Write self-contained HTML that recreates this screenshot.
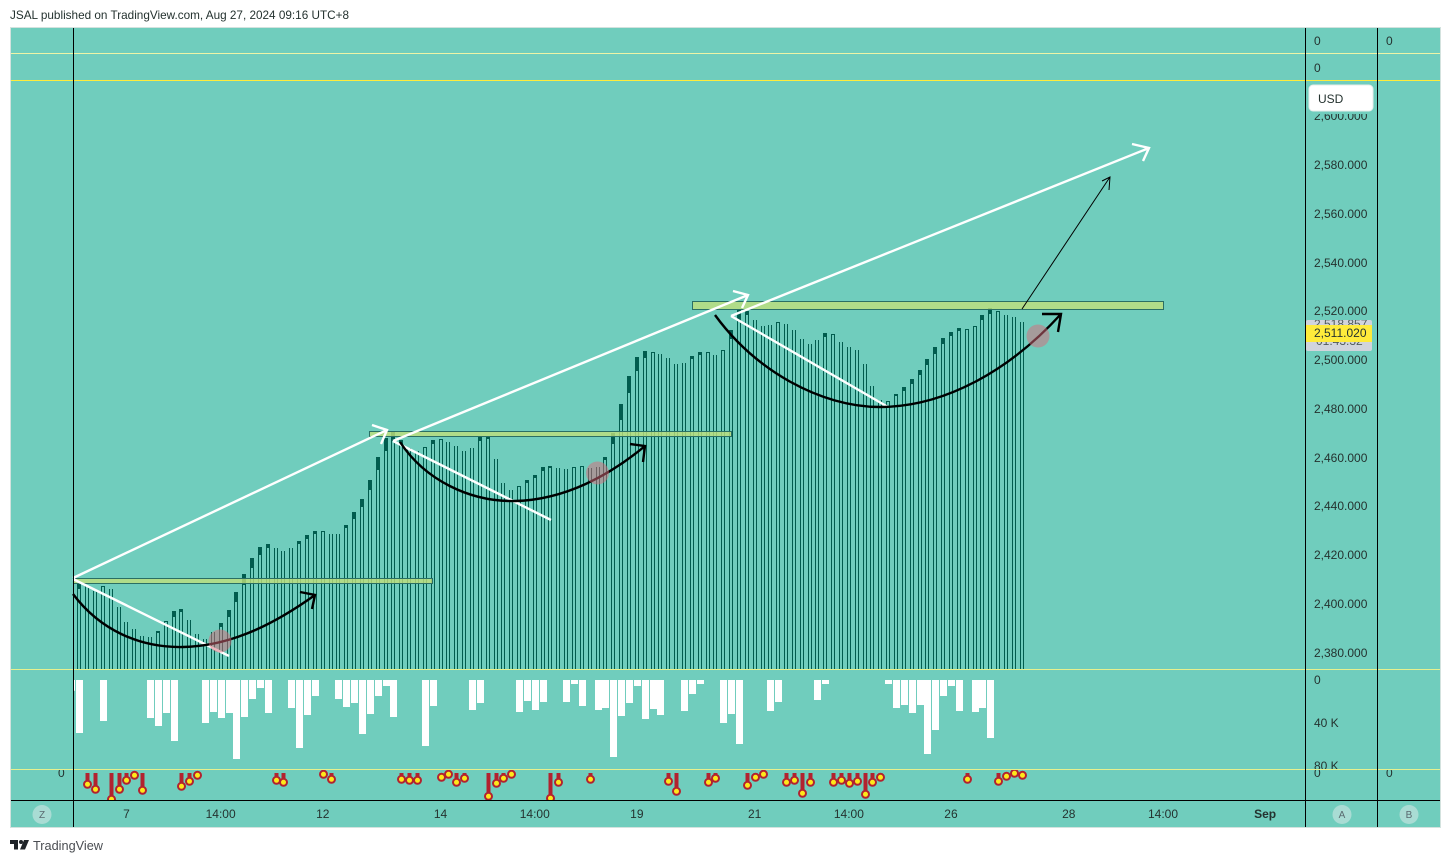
<!DOCTYPE html>
<html lang="en">
<head>
<meta charset="utf-8">
<title>JSAL chart</title>
<style>
html,body{margin:0;padding:0;background:#fff;width:1451px;height:863px;overflow:hidden}
svg{display:block}
text{font-family:"Liberation Sans",sans-serif;font-size:12px;fill:#24322f}
</style>
</head>
<body>
<svg id="chart" width="1451" height="863" viewBox="0 0 1451 863" xmlns="http://www.w3.org/2000/svg">
<defs>
<clipPath id="priceClip"><rect x="74" y="81" width="1231" height="588"/></clipPath>
<clipPath id="volClip"><rect x="74" y="670" width="1231" height="99"/></clipPath>
<clipPath id="markerClip"><rect x="74" y="770" width="1231" height="30"/></clipPath>
<clipPath id="volAxisClip"><rect x="1306" y="670" width="71" height="99"/></clipPath>
<clipPath id="lowAxisClip"><rect x="11" y="770" width="1430" height="30"/></clipPath>
<clipPath id="badgeClip"><rect x="1306" y="320" width="66" height="31"/></clipPath>
</defs>

<text x="10" y="19" textLength="339" lengthAdjust="spacingAndGlyphs">JSAL published on TradingView.com, Aug 27, 2024 09:16 UTC+8</text>

<rect x="10.5" y="27.5" width="1430" height="800" fill="#70cdbd" stroke="#d3e2de" stroke-width="1"/>

<g id="priceBars" clip-path="url(#priceClip)"></g>
<g id="volumeBars" clip-path="url(#volClip)"></g>
<g id="markers" clip-path="url(#markerClip)"></g>

<g>
<rect x="73.5" y="578.5" width="359" height="5" fill="#c0e07c" fill-opacity=".8" stroke="#2a6f64" stroke-width="1"/>
<rect x="369.5" y="431.5" width="362" height="5" fill="#c0e07c" fill-opacity=".8" stroke="#2a6f64" stroke-width="1"/>
<rect x="692.5" y="301.5" width="471" height="8" fill="#c0e07c" fill-opacity=".8" stroke="#2a6f64" stroke-width="1"/>
</g>

<g fill="none" stroke="#fff" stroke-width="2.4">
<path d="M73,578 L387,430 M372,425 L387,430 L381,444"/>
<path d="M73,579 L229,656"/>
<path d="M393,441 L748,295 M733,291 L748,295 L742,308"/>
<path d="M393,441 L551,520"/>
<path d="M731,316 L1149,148 M1132,144 L1149,148 L1143,161"/>
<path d="M731,316 L888,407"/>
</g>

<g fill="none" stroke="#000" stroke-width="2.4">
<path d="M73,594 C100,630 140,648 183,647 C235,646 280,620 315,595 M300,592 L315,595 L312,609"/>
<path d="M400,442 C425,480 470,502 515,501 C565,500 610,475 645,446 M630,444 L645,446 L643,462"/>
<path d="M715,315 C755,370 820,407 880,407 C945,407 1010,370 1061,314 M1042,314 L1061,314 L1058,332"/>
<path stroke-width="1" d="M1022,309 L1110,177 M1102,181 L1110,177 L1109,190"/>
</g>

<g fill="#da6979" fill-opacity=".5">
<circle cx="220" cy="641" r="11.5"/>
<circle cx="597.5" cy="473" r="11.5"/>
<circle cx="1038" cy="336" r="11.5"/>
</g>

<g>
<rect x="11" y="53" width="1429" height="1" fill="#eef4a6"/>
<rect x="11" y="80" width="1429" height="1" fill="#ffeb3b"/>
<rect x="11" y="669" width="1429" height="1" fill="#e6f08e"/>
<rect x="11" y="769" width="1429" height="1" fill="#e6f08e"/>
<rect x="11" y="800" width="1429" height="1" fill="#000"/>
<rect x="73" y="28" width="1" height="799" fill="#000"/>
<rect x="1305" y="28" width="1" height="799" fill="#000"/>
<rect x="1377" y="28" width="1" height="799" fill="#000"/>
</g>

<g id="priceAxis"></g>
<g id="volAxis" clip-path="url(#volAxisClip)"></g>
<g id="timeAxis"></g>

<g>
<text x="1314" y="45">0</text>
<text x="1386" y="45">0</text>
<text x="1314" y="72">0</text>
</g>
<g clip-path="url(#lowAxisClip)">
<text x="58" y="777">0</text>
<text x="1314" y="777">0</text>
<text x="1386" y="777">0</text>
</g>

<rect x="1306" y="111" width="66" height="3" fill="#70cdbd"/>
<rect x="1309" y="85" width="64" height="26" rx="4" fill="#fff" stroke="#e6ecea" stroke-width="1"/>
<text x="1318" y="103">USD</text>

<g>
<rect x="1306" y="320" width="66" height="31" rx="2" fill="#d1d4dc"/>
<g clip-path="url(#badgeClip)">
<text x="1314" y="328" fill-opacity=".75">2,518.857</text>
<text x="1316" y="345" fill-opacity=".75">01:43:32</text>
</g>
<rect x="1306" y="325" width="66" height="17" fill="#ffeb3b"/>
<text x="1314" y="337" fill="#131722">2,511.020</text>
</g>

<g>
<circle cx="42" cy="814.5" r="9.5" fill="#a9dcd4"/>
<text x="42" y="818" text-anchor="middle" style="font-size:10px;fill:#5a6a70">Z</text>
<circle cx="1342" cy="814.5" r="9.5" fill="#a9dcd4"/>
<text x="1342" y="818" text-anchor="middle" style="font-size:10px;fill:#5a6a70">A</text>
<circle cx="1409" cy="814.5" r="9.5" fill="#a9dcd4"/>
<text x="1409" y="818" text-anchor="middle" style="font-size:10px;fill:#5a6a70">B</text>
</g>

<g>
<path d="M10,840 H18 V849.5 H14 V844 H10 Z M24,840 H29 L25,849.5 H20 Z" fill="#1f2328"/>
<circle cx="21" cy="842" r="2" fill="#1f2328"/>
<text x="33" y="850" textLength="70" lengthAdjust="spacingAndGlyphs" style="font-size:13px;fill:#4a4d52">TradingView</text>
</g>
</svg>

<script>
var highs = [2407.7,2406.9,2404.9,2406.9,2405.6,2398.3,2392.1,2389.2,2386.4,2385.9,
2388.4,2392.5,2396.6,2397.4,2392.9,2387.2,2385.1,2388,2391.7,2397,
2404.4,2411.8,2418.4,2422.9,2424.1,2422.5,2421.2,2422.5,2425.3,2427.8,
2429.4,2429.4,2428.2,2428.2,2431.9,2437.2,2442.6,2450.4,2459.8,2467.6,
2470.1,2466.8,2463.5,2462.3,2463.9,2466.8,2467.2,2466,2464.3,2462.3,
2463.5,2468.4,2468.4,2459,2449.1,2446.3,2447.9,2450.4,2452.4,2455.7,
2456.1,2455.3,2454.9,2455.7,2456.1,2455.3,2455.7,2459.8,2469.7,2481.6,
2493,2500.8,2503.3,2502.9,2502.1,2500.4,2498,2498.4,2501.3,2502.9,
2502.9,2501.7,2503.7,2511.9,2520.1,2519.7,2516,2513.6,2514,2515.2,
2514.4,2511.9,2508.2,2506.2,2507.8,2510.7,2510.3,2507,2504.9,2503.7,
2498,2488.9,2483.2,2482.8,2485.7,2488.5,2491.8,2495.5,2500,2504.9,
2508.6,2511.1,2512.7,2512.3,2513.6,2518.1,2521,2519.7,2518.1,2517.3,
2515.2];
var bodyLows = [2405.6,0,0,0,0,0,0,0,0,0,
2387.6,0,2394.2,2396.2,0,0,0,0,2390.1,2394.2,
2400.3,2407.3,2414.3,2419.6,2422.5,0,0,0,2424.1,2426.2,
2428.2,0,0,0,2430.7,2434.4,2439.3,2446.3,2454.5,2462.3,
2466.4,2465.1,0,0,0,2465.1,0,0,0,0,
0,2466.4,2467.2,0,0,0,0,2449.1,2451.2,2454.1,
2455.3,0,0,0,0,0,0,2458.6,2465.1,2475,
2486.1,2495.1,2500.4,0,0,0,0,0,2500,2501.7,
0,0,0,2508.2,2516,2518.1,0,0,0,0,
0,0,0,0,0,2509,0,0,0,0,
0,0,0,0,2484.8,2486.9,2489.8,2493.5,2497.6,2502.1,
2506.2,2509.5,2511.5,0,0,2516,2518.5,0,0,0,
0];
var cappedBars = [3,11,31,44,46,56,63,64,73,80,82,89,96,103,113,114,117];
var volumes = [49.3,0,0,38,0,0,0,0,0,35,
43,31,57,0,0,0,40,30,35,31,
73.5,34,18,7.5,31,0,0,26,63,33,
15,0,0,18,25,21,50,32,15,5.6,
34,0,0,0,61,24,0,0,0,0,
28,21,0,0,0,0,30,19.5,28,20.5,
0,0,20.5,3.7,24,0,28,26,72,33.5,
21,5.6,36,27,32.5,0,0,29,13,3.7,
0,0,40,32,59.5,0,0,0,29,20.5,
0,0,0,0,18.6,3.7,0,0,0,0,
0,0,0,3.7,26,23,31,23,69,46.5,
15,5.6,29,0,30,26,54];
var volumeBeforeFirst = 10;
var markerIndex = [1,2,4,5,6,7,8,13,14,15,25,26,31,32,41,42,43,46,47,48,49,52,53,54,55,60,61,65,75,76,80,81,85,86,87,90,91,92,93,96,97,98,99,100,101,102,113,117,118,119,120];
var markerDepth = [11.3,16.3,26.3,16.3,7.3,2.3,17.3,13.3,8.3,2.3,7.3,9.3,1.3,6.3,6.3,7.3,7.3,4.3,1.3,9.3,5.3,23.3,10.3,5.3,1.3,25.3,9.3,6.3,8.3,18.3,9.3,5.3,12.3,4.3,1.3,9.3,7.3,20.3,9.3,9.3,7.3,10.3,8.3,21.3,9.3,4.3,6.3,8.3,3.3,0.3,2.3];
var priceTicks = [2600,2580,2560,2540,2520,2500,2480,2460,2440,2420,2400,2380];
var volumeTicks = [0,40,80];
var timeIndices = [6,18,31,46,58,71,86,98,111,126,138,151];
var timeLabels = ["7","14:00","12","14","14:00","19","21","14:00","26","28","14:00","Sep"];

var SVGNS = "http://www.w3.org/2000/svg";
var BAR_COLOR = "#015c4e";
function xBar(i){ return Math.round(79.3 + 7.853 * i); }
function yPrice(p){ return 651.5 - (p - 2380) * 2.437; }
function yVolume(k){ return 680 + k * 1.075; }
function yMarker(d){ return 773 + d; }
function make(tag, attrs, parent){
  var el = document.createElementNS(SVGNS, tag);
  for (var k in attrs) el.setAttribute(k, attrs[k]);
  parent.appendChild(el);
  return el;
}

var barsG = document.getElementById("priceBars");
for (var i = 0; i < highs.length; i++) {
  var bx = xBar(i), by = Math.round(yPrice(highs[i]));
  var d = "M" + (bx - 1.5) + "," + by + "V672M" + (bx + 1.5) + "," + by + "V672";
  if (cappedBars.indexOf(i) >= 0) d += "M" + (bx - 2) + "," + (by + 0.5) + "H" + (bx + 2);
  var col = make("path", {d: d, fill: "none", stroke: BAR_COLOR, "stroke-width": 1}, barsG);
  
  
  if (bodyLows[i] > 0) {
    var bl = Math.round(yPrice(bodyLows[i]));
    var body = make("rect", {x: bx - 2, y: by, width: 4, height: Math.max(1, bl - by), fill: BAR_COLOR}, barsG);
    
    
  }
}

var volG = document.getElementById("volumeBars");
var preVol = make("rect", {x: xBar(-1) - 3, y: yVolume(0), width: 7, height: yVolume(volumeBeforeFirst) - yVolume(0), fill: "#fff"}, volG);


for (var v = 0; v < volumes.length; v++) {
  if (volumes[v] <= 0) continue;
  var vb = make("rect", {x: xBar(v) - 3, y: yVolume(0), width: 7, height: Math.round(yVolume(volumes[v]) - yVolume(0)), fill: "#fff"}, volG);
  
  
}

var mG = document.getElementById("markers");
for (var m = 0; m < markerIndex.length; m++) {
  var mx = xBar(markerIndex[m]) + 0.5, my = yMarker(markerDepth[m]);
  var stem = make("rect", {x: mx - 2, y: 773, width: 4, height: Math.max(0, my - 773), fill: "#b2222f"}, mG);
  
  
  var dot = make("circle", {cx: mx, cy: my, r: 3.5, fill: "#ffe81a", stroke: "#b2222f", "stroke-width": 2}, mG);
  
  
}

function fmtPrice(p){ return String(p).replace(/(\d)(\d{3})$/, "$1,$2") + ".000"; }
var paG = document.getElementById("priceAxis");
priceTicks.forEach(function(p){
  var t = make("text", {x: 1314, y: Math.round(yPrice(p)) + 5}, paG);
  
  
  t.textContent = fmtPrice(p);
});
var vaG = document.getElementById("volAxis");
volumeTicks.forEach(function(k){
  var t = make("text", {x: 1314, y: Math.round(yVolume(k)) + 4}, vaG);
  
  
  t.textContent = k === 0 ? "0" : k + " K";
});
var taG = document.getElementById("timeAxis");
timeLabels.forEach(function(lab, n){
  var t = make("text", {x: 79.3 + 7.853 * timeIndices[n], y: 818, "text-anchor": "middle"}, taG);
  
  
  if (lab === "Sep") t.setAttribute("font-weight", "bold");
  t.textContent = lab;
});
</script>
</body>
</html>
